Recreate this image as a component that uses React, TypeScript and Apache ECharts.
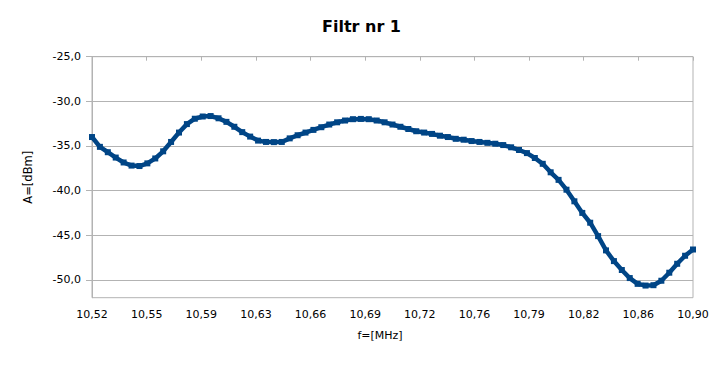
import React, { useEffect, useRef } from "react";
import * as echarts from "echarts";

const freqs: number[] = [
  10.52, 10.525, 10.53, 10.535, 10.54, 10.545, 10.55, 10.555, 10.56, 10.565,
  10.57, 10.575, 10.58, 10.585, 10.59, 10.595, 10.6, 10.605, 10.61, 10.615,
  10.62, 10.625, 10.63, 10.635, 10.64, 10.645, 10.65, 10.655, 10.66, 10.665,
  10.67, 10.675, 10.68, 10.685, 10.69, 10.695, 10.7, 10.705, 10.71, 10.715,
  10.72, 10.725, 10.73, 10.735, 10.74, 10.745, 10.75, 10.755, 10.76, 10.765,
  10.77, 10.775, 10.78, 10.785, 10.79, 10.795, 10.8, 10.805, 10.81, 10.815,
  10.82, 10.825, 10.83, 10.835, 10.84, 10.845, 10.85, 10.855, 10.86, 10.865,
  10.87, 10.875, 10.88, 10.885, 10.89, 10.895, 10.9,
];

const levels: number[] = [
  -34.0, -35.1, -35.7, -36.3, -36.85, -37.2, -37.25, -36.95, -36.4, -35.6,
  -34.55, -33.5, -32.55, -31.95, -31.7, -31.65, -31.9, -32.3, -32.85, -33.45,
  -33.95, -34.4, -34.55, -34.57, -34.55, -34.15, -33.8, -33.5, -33.2, -32.9,
  -32.6, -32.35, -32.15, -32.0, -31.97, -32.0, -32.15, -32.35, -32.6, -32.85,
  -33.1, -33.35, -33.5, -33.65, -33.85, -34.0, -34.2, -34.3, -34.45, -34.55,
  -34.65, -34.75, -34.9, -35.15, -35.45, -35.8, -36.35, -37.0, -37.95, -38.8,
  -39.9, -41.2, -42.5, -43.6, -45.1, -46.7, -47.9, -48.9, -49.8, -50.45,
  -50.64, -50.6, -50.1, -49.2, -48.2, -47.3, -46.6,
];

const xTickLabels: string[] = [
  "10,52", "10,55", "10,59", "10,63", "10,66", "10,69",
  "10,72", "10,76", "10,79", "10,82", "10,86", "10,90",
];

const yTickValues: number[] = [-50, -45, -40, -35, -30, -25];

const X_MIN = 10.52;
const X_MAX = 10.9;
const Y_MIN = -52;
const Y_MAX = -25;

export default function App() {
  const ref = useRef<HTMLDivElement>(null);

  useEffect(() => {
    if (!ref.current) return;
    const chart = echarts.init(ref.current, undefined, { renderer: "svg" });
    const step = (X_MAX - X_MIN) / (xTickLabels.length - 1);
    const xTickValues = xTickLabels.map((_, i) => X_MIN + i * step);
    const font = "DejaVu Sans";
    const grey = "#b3b3b3";

    chart.setOption({
      animation: false,
      backgroundColor: "#ffffff",
      title: {
        text: "Filtr nr 1",
        left: "center",
        top: 18,
        padding: 0,
        textStyle: { fontFamily: font, fontSize: 16, fontWeight: "bold", color: "#000" },
      },
      grid: {
        left: 92,
        right: 30,
        top: 56.7,
        bottom: 67.3,
        show: true,
        borderColor: grey,
        borderWidth: 1,
        backgroundColor: "transparent",
      },
      xAxis: [
        {
          type: "value",
          min: X_MIN,
          max: X_MAX,
          position: "bottom",
          axisLine: { show: false },
          axisTick: { show: false },
          splitLine: { show: false },
          axisLabel: {
            customValues: xTickValues,
            margin: 11,
            fontFamily: font,
            fontSize: 11,
            color: "#000",
            formatter: (v: number) => xTickLabels[Math.round((v - X_MIN) / step)] ?? "",
          },
          name: "f=[MHz]",
          nameLocation: "middle",
          nameGap: 32,
          nameTextStyle: {
            fontFamily: font,
            fontSize: 11,
            color: "#000",
            padding: [0, 25, 0, 0],
          },
        },
        {
          type: "value",
          min: X_MIN,
          max: X_MAX,
          position: "top",
          axisLine: { show: false },
          axisLabel: { show: false },
          splitLine: { show: false },
          axisTick: {
            show: true,
            inside: true,
            length: 4,
            customValues: xTickValues,
            lineStyle: { color: grey },
          },
        },
      ],
      yAxis: {
        type: "value",
        min: Y_MIN,
        max: Y_MAX,
        axisLine: { show: true, lineStyle: { color: grey } },
        axisTick: {
          show: true,
          length: 6,
          customValues: yTickValues,
          lineStyle: { color: grey },
        },
        splitLine: { show: true, lineStyle: { color: grey, width: 1 } },
        axisLabel: {
          customValues: yTickValues,
          margin: 11,
          fontFamily: font,
          fontSize: 11,
          color: "#000",
          formatter: (v: number) => v.toFixed(1).replace(".", ","),
        },
        name: "A=[dBm]",
        nameLocation: "middle",
        nameGap: 58,
        nameTextStyle: { fontFamily: font, fontSize: 11.5, color: "#000" },
      },
      series: [
        {
          type: "line",
          xAxisIndex: 0,
          data: freqs.map((f, i) => [f, levels[i]]),
          symbol: "rect",
          symbolSize: 6,
          showSymbol: true,
          itemStyle: { color: "#004586" },
          lineStyle: { color: "#004586", width: 4.5 },
        },
      ],
    });

    return () => chart.dispose();
  }, []);

  return (
    <div
      ref={ref}
      style={{ position: "fixed", left: 0, top: 0, width: 723, height: 365 }}
    />
  );
}
